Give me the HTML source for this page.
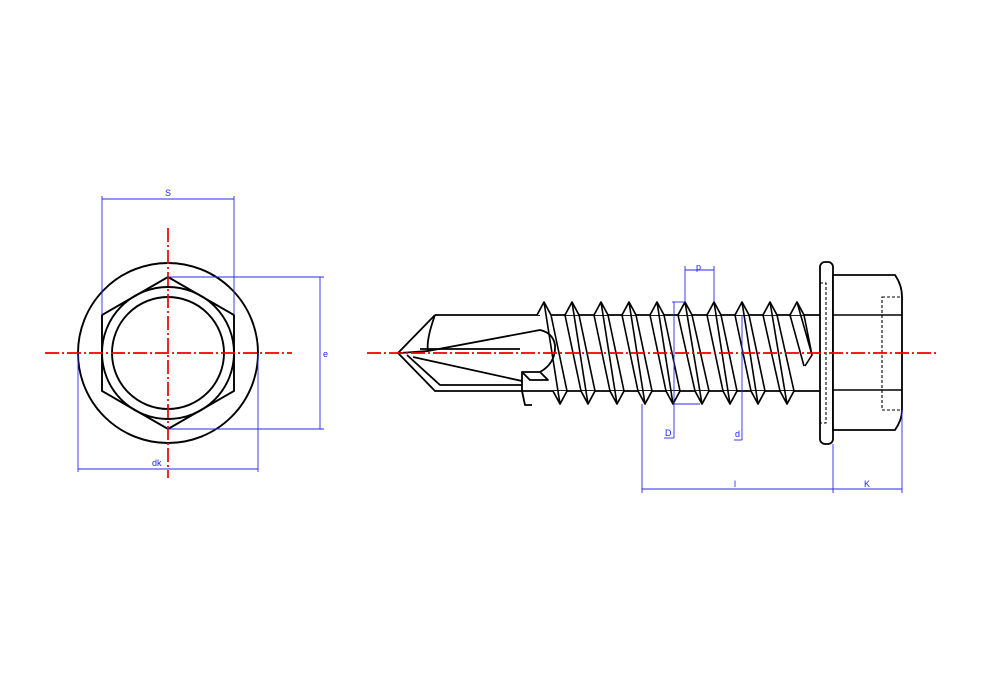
<!DOCTYPE html>
<html><head><meta charset="utf-8"><style>
html,body{margin:0;padding:0;background:#fff;}
svg{display:block;}
text{font-family:"Liberation Sans",sans-serif;font-size:9px;fill:#2222ee;}
</style></head><body>
<svg width="1000" height="700" viewBox="0 0 1000 700" xmlns="http://www.w3.org/2000/svg">
<g fill="none" stroke="#000" stroke-width="1.9">
<circle cx="168" cy="353" r="90"/>
<polygon points="168,277 234,315 234,391 168,429 102,391 102,315"/>
<circle cx="168" cy="353" r="66"/>
<circle cx="168" cy="353" r="56"/>
</g>
<g stroke="#e00" stroke-width="1.7" stroke-dasharray="14,3,2,3">
<line x1="45" y1="353" x2="292" y2="353"/>
<line x1="168" y1="228" x2="168" y2="478"/>
</g>
<g stroke="#2a2aee" stroke-width="0.9" fill="none">
<line x1="102" y1="196" x2="102" y2="315"/><line x1="234" y1="196" x2="234" y2="315"/>
<line x1="102" y1="199" x2="234" y2="199"/>
<line x1="168" y1="277" x2="324" y2="277"/><line x1="168" y1="429" x2="324" y2="429"/>
<line x1="320" y1="277" x2="320" y2="429"/>
<line x1="78" y1="353" x2="78" y2="472"/><line x1="258" y1="353" x2="258" y2="472"/>
<line x1="78" y1="469" x2="258" y2="469"/>
</g>
<text x="165" y="196">S</text>
<text x="323" y="357">e</text>
<text x="152" y="466">dk</text>

<g fill="none" stroke="#000" stroke-width="1.8" stroke-linejoin="round">
<path d="M435,315 L398,353 L435,391 L522,391"/>
<path d="M435,315 L540,315"/>
<path d="M435,315 Q426,340 428,351 L400,353"/>
<path d="M428,351 L540,330 Q553,333 555,345 Q556,363 540,372"/>
<path d="M413,357 L522,381"/>
<path d="M407,355 L440,385 L522,385"/>
<path d="M420,349 L520,349"/>
<path d="M522,372 L540,372 L548,380 L530,380 Z"/>
<path d="M522,372 L522,391 L525,405 L532,405"/>
<line x1="551" y1="315" x2="820" y2="315"/>
<line x1="522" y1="391" x2="820" y2="391"/>
</g>
<g fill="#fff" stroke="#000" stroke-width="1.7" stroke-linejoin="round">
<path d="M537,315 L544,302 L551,315"/>
<path d="M565,315 L572,302 L579,315"/>
<path d="M594,315 L601,302 L608,315"/>
<path d="M622,315 L629,302 L636,315"/>
<path d="M650,315 L657,302 L664,315"/>
<path d="M678,315 L685,302 L692,315"/>
<path d="M707,315 L714,302 L721,315"/>
<path d="M735,315 L742,302 L749,315"/>
<path d="M763,315 L770,302 L777,315"/>
<path d="M790,315 L797,302 L804,315"/>
<path d="M553,391 L560,404 L567,391"/>
<path d="M581,391 L588,404 L595,391"/>
<path d="M610,391 L617,404 L624,391"/>
<path d="M638,391 L645,404 L652,391"/>
<path d="M666,391 L673,404 L680,391"/>
<path d="M695,391 L702,404 L709,391"/>
<path d="M723,391 L730,404 L737,391"/>
<path d="M751,391 L758,404 L765,391"/>
<path d="M780,391 L787,404 L794,391"/>
</g>
<g stroke="#000" stroke-width="1.6" fill="none">
<path d="M551,315 L567,391 M544,302 L560,404 M565,315 L581,391"/>
<path d="M579,315 L595,391 M572,302 L588,404 M594,315 L610,391"/>
<path d="M608,315 L624,391 M601,302 L617,404 M622,315 L638,391"/>
<path d="M636,315 L652,391 M629,302 L645,404 M650,315 L666,391"/>
<path d="M664,315 L680,391 M657,302 L673,404 M678,315 L695,391"/>
<path d="M692,315 L709,391 M685,302 L702,404 M707,315 L723,391"/>
<path d="M721,315 L737,391 M714,302 L730,404 M735,315 L751,391"/>
<path d="M749,315 L765,391 M742,302 L758,404 M763,315 L780,391"/>
<path d="M777,315 L794,391 M770,302 L787,404 M790,315 L804,366"/>
<path d="M797,302 L812,355 L805,366 M804,315 L812,355"/>
</g>
<g fill="#fff" stroke="#000" stroke-width="1.8">
<rect x="820" y="262" width="13" height="182" rx="5"/>
<path d="M833,275 L895,275 Q902,285 902,297 L902,410 Q902,420 895,430 L833,430 Z"/>
</g>
<g stroke="#000" stroke-width="1.5" fill="none">
<line x1="833" y1="315" x2="902" y2="315"/>
<line x1="833" y1="390" x2="902" y2="390"/>
</g>
<g stroke="#000" stroke-width="1.1" fill="none" stroke-dasharray="3,2">
<rect x="882" y="297" width="20" height="113"/>
<path d="M820,283 L826,283 L826,423 L820,423"/>
</g>
<g stroke="#e00" stroke-width="1.7" stroke-dasharray="14,3,2,3">
<line x1="367" y1="353" x2="937" y2="353"/>
</g>
<g stroke="#2a2aee" stroke-width="0.9" fill="none">
<line x1="685" y1="266" x2="685" y2="302"/><line x1="714" y1="266" x2="714" y2="302"/>
<line x1="685" y1="270" x2="714" y2="270"/>
<line x1="672" y1="302" x2="685" y2="302"/>
<line x1="674" y1="302" x2="674" y2="438"/><line x1="674" y1="404" x2="700" y2="404"/>
<path d="M664,438 L674,438"/>
<line x1="742" y1="315" x2="742" y2="440"/>
<path d="M742,440 L734,440"/>
<line x1="642" y1="404" x2="642" y2="493"/>
<line x1="833" y1="444" x2="833" y2="493"/>
<line x1="902" y1="410" x2="902" y2="493"/>
<line x1="642" y1="489" x2="833" y2="489"/>
<line x1="833" y1="489" x2="902" y2="489"/>
</g>
<text x="696" y="270">p</text>
<text x="665" y="436">D</text>
<text x="735" y="437">d</text>
<text x="734" y="487">l</text>
<text x="864" y="487">K</text>
</svg>
</body></html>
